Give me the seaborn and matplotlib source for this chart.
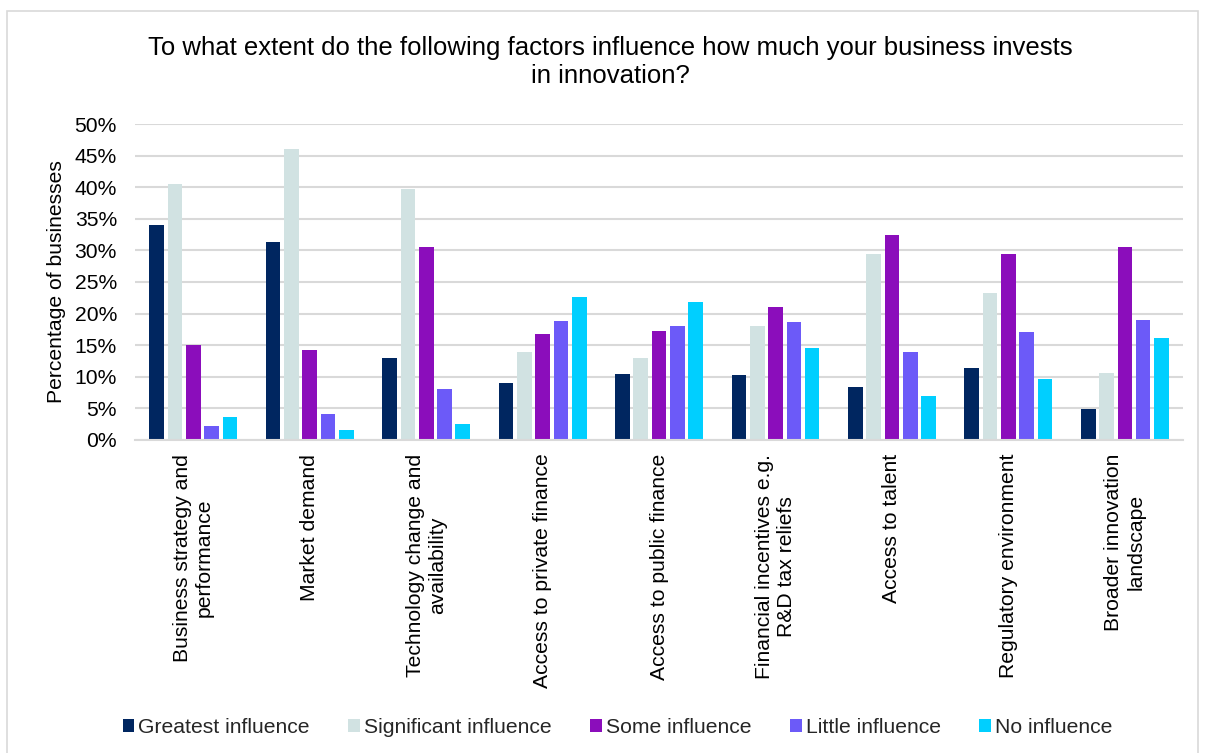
import matplotlib
matplotlib.use("Agg")
import matplotlib.pyplot as plt
from matplotlib.patches import Rectangle
from matplotlib.ticker import FuncFormatter
import pandas as pd
import seaborn as sns

factors = [
    "Business strategy and\nperformance",
    "Market demand",
    "Technology change and\navailability",
    "Access to private finance",
    "Access to public finance",
    "Financial incentives e.g.\nR&D tax reliefs",
    "Access to talent",
    "Regulatory environment",
    "Broader innovation\nlandscape",
]
levels = ["Greatest influence", "Significant influence", "Some influence",
          "Little influence", "No influence"]

greatest = [34.1, 31.4, 13.0, 9.0, 10.4, 10.3, 8.3, 11.4, 4.8]
significant = [40.6, 46.1, 39.7, 13.9, 12.9, 18.0, 29.4, 23.3, 10.5]
some = [15.0, 14.2, 30.6, 16.7, 17.2, 21.1, 32.5, 29.4, 30.6]
little = [2.2, 4.1, 8.0, 18.8, 18.1, 18.7, 13.9, 17.0, 18.9]
none_ = [3.6, 1.5, 2.5, 22.6, 21.8, 14.5, 7.0, 9.6, 16.1]

colors = ["#002660", "#D1E2E2", "#8B0DBB", "#6C5AF8", "#00CFFF"]
yticks = [0, 5, 10, 15, 20, 25, 30, 35, 40, 45, 50]

series = [greatest, significant, some, little, none_]
rows = []
for lvl, vals in zip(levels, series):
    for f, v in zip(factors, vals):
        rows.append({"factor": f, "level": lvl, "value": v})
df = pd.DataFrame(rows)

sns.set_theme(style="white")
plt.rcParams["font.family"] = ["Liberation Sans", "DejaVu Sans"]

fs = 15.2

fig = plt.figure(figsize=(12.06, 7.53), dpi=100)
ax = fig.add_axes([0.112, 0.416, 0.869, 0.419])

sns.barplot(data=df, x="factor", y="value", hue="level", order=factors,
            hue_order=levels, palette=colors, width=0.786, gap=0.2,
            saturation=1, linewidth=0, ax=ax)

ax.set_ylim(0, 50)
ax.set_xlim(-0.5, len(factors) - 0.5)
ax.set_yticks(yticks)
ax.yaxis.set_major_formatter(FuncFormatter(lambda v, p: f"{v:.0f}%"))
ax.grid(axis="y", color="#D9D9D9", linewidth=1.5)
ax.set_axisbelow(True)
for s in ["top", "right", "left"]:
    ax.spines[s].set_visible(False)
ax.spines["bottom"].set_color("#D9D9D9")
ax.spines["bottom"].set_linewidth(1.5)
ax.tick_params(axis="both", length=0, labelsize=fs, colors="black")
ax.tick_params(axis="y", pad=13)
ax.tick_params(axis="x", pad=10)
for lab in ax.get_xticklabels():
    lab.set_rotation(90)
    lab.set_ha("center")
    lab.set_va("top")
    lab.set_multialignment("center")

ax.set_xlabel("")
ax.set_ylabel("Percentage of businesses", fontsize=fs, color="black", labelpad=6)

fig.text(0.506, 0.918,
         "To what extent do the following factors influence how much your business invests\nin innovation?",
         ha="center", va="center", fontsize=18.5, color="black", linespacing=1.2)

handles, labels = ax.get_legend_handles_labels()
ax.get_legend().remove()
fig.legend(handles, labels, loc="center", bbox_to_anchor=(0.512, 0.034), ncol=5,
           frameon=False, fontsize=fs, handlelength=0.55, handleheight=0.55,
           handletextpad=0.2, columnspacing=1.82)

fig.patches.append(Rectangle((7 / 1206, -0.01), 1191 / 1206, 1 - 11 / 753 + 0.01,
                             transform=fig.transFigure, fill=False,
                             edgecolor="#D9D9D9", linewidth=1.2))

fig.savefig("out.png", dpi=100)
